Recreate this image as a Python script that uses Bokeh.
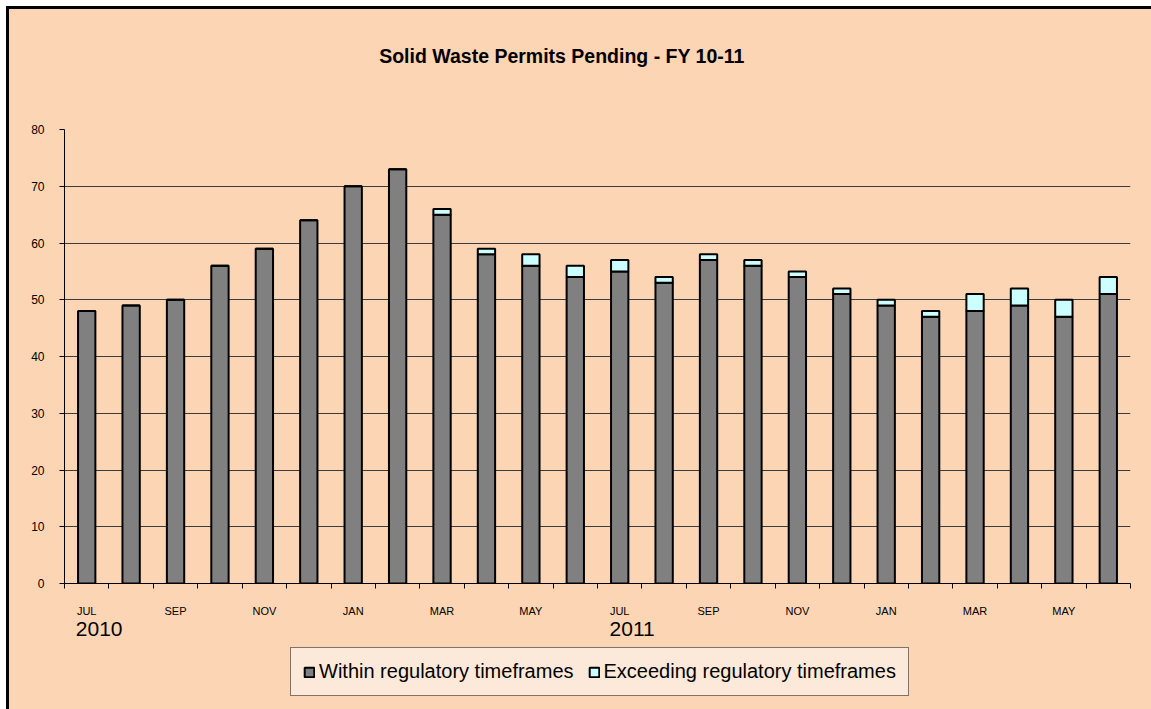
from bokeh.plotting import figure
from bokeh.layouts import column
from bokeh.models import (ColumnDataSource, Range1d, LinearAxis, FixedTicker,
                          Legend, LegendItem, Label)
from bokeh.embed import file_html
from bokeh.resources import INLINE

# ---------------- data ----------------
months = ["JUL", "AUG", "SEP", "OCT", "NOV", "DEC",
          "JAN", "FEB", "MAR", "APR", "MAY", "JUN",
          "JUL", "AUG", "SEP", "OCT", "NOV", "DEC",
          "JAN", "FEB", "MAR", "APR", "MAY", "JUN"]
years = ["2010", "2011"]
within = [48, 49, 50, 56, 59, 64, 70, 73, 65, 58, 56, 54,
          55, 53, 57, 56, 54, 51, 49, 47, 48, 49, 47, 51]
exceed = [0, 0, 0, 0, 0, 0, 0, 0, 1, 1, 2, 2,
          2, 1, 1, 1, 1, 1, 1, 1, 3, 3, 3, 3]
series_names = ["Within regulatory timeframes", "Exceeding regulatory timeframes"]
y_ticks = [0, 10, 20, 30, 40, 50, 60, 70, 80]
title_text = "Solid Waste Permits Pending - FY 10-11"

# ---------------- style ----------------
FONT = "Liberation Sans"
BG = "#FCD5B4"
COLORS = ["#808080", "#CCFFFF"]
YEAR_NUDGE = 0.28    # year labels start at the left edge of the month label
TITLE_CENTER = 11.2  # horizontal centre of the title, in category units
W = 1142

n = len(months)
xs = [i + 0.5 for i in range(n)]
source = ColumnDataSource(dict(x=xs, within=within, exceed=exceed))
x_range = Range1d(0, n)
stack_style = dict(x="x", width=0.39, source=source, fill_color=COLORS,
                   line_color="black", line_width=2)


def strip(height):
    f = figure(width=W, height=height, x_range=x_range, y_range=Range1d(0, height),
               output_backend="svg", toolbar_location=None,
               min_border_left=0, min_border_right=0,
               min_border_top=0, min_border_bottom=0,
               background_fill_color=BG, background_fill_alpha=0,
               border_fill_color=BG, outline_line_color=None,
               x_axis_type=None, y_axis_type=None)
    f.xgrid.visible = False
    f.ygrid.visible = False
    return f


# ---------------- title strip ----------------
tf = strip(81)
tf.add_layout(Label(x=TITLE_CENTER, y=35, text=title_text,
                    text_font=FONT, text_font_size="19.5px", text_font_style="bold",
                    text_color="black", text_align="center",
                    text_baseline="alphabetic"))

# ---------------- main chart ----------------
p = figure(width=W, height=555,
           x_range=x_range, y_range=Range1d(y_ticks[0], y_ticks[-1]),
           output_backend="svg", toolbar_location=None,
           min_border_left=55, min_border_right=21,
           min_border_top=39, min_border_bottom=62,
           background_fill_color=BG, background_fill_alpha=0,
           border_fill_color=BG, outline_line_color=None, x_axis_type=None)

# y axis
p.yaxis.ticker = FixedTicker(ticks=y_ticks, minor_ticks=[])
p.yaxis.axis_line_color = "black"
p.yaxis.axis_line_width = 1
p.yaxis.major_tick_line_color = "black"
p.yaxis.major_tick_out = 5
p.yaxis.major_tick_in = 0
p.yaxis.minor_tick_out = 0
p.yaxis.minor_tick_in = 0
p.yaxis.major_label_text_font = FONT
p.yaxis.major_label_text_font_size = "12px"
p.yaxis.major_label_text_color = "black"
p.yaxis.major_label_standoff = 15

p.ygrid.ticker = FixedTicker(ticks=y_ticks)
p.ygrid.grid_line_color = "#3c3c3c"
p.ygrid.grid_line_width = 1
p.xgrid.visible = False

# x axis: ticks at category boundaries, labels every other month
xaxis = LinearAxis(
    ticker=FixedTicker(ticks=[xs[i] for i in range(0, n, 2)],
                       minor_ticks=list(range(n + 1))),
    major_label_overrides={xs[i]: months[i] for i in range(0, n, 2)},
    axis_line_color="black", axis_line_width=1,
    major_tick_out=0, major_tick_in=0,
    minor_tick_out=5, minor_tick_in=0, minor_tick_line_color="black",
    major_label_text_font=FONT, major_label_text_font_size="11px",
    major_label_text_color="black", major_label_standoff=16)
p.add_layout(xaxis, "below")

# year axis under the July of each year
jul_idx = [i for i in range(n) if months[i] == "JUL"]
year_pos = [xs[i] + YEAR_NUDGE for i in jul_idx]
year_axis = LinearAxis(
    ticker=FixedTicker(ticks=year_pos, minor_ticks=[]),
    major_label_overrides={pos: years[k] for k, pos in enumerate(year_pos)},
    axis_line_color=None, major_tick_line_color=None, minor_tick_line_color=None,
    major_tick_out=0, major_tick_in=0, minor_tick_out=0, minor_tick_in=0,
    major_label_text_font=FONT, major_label_text_font_size="21px",
    major_label_text_color="black", major_label_standoff=2)
p.add_layout(year_axis, "below")

# bars
renderers = p.vbar_stack(["within", "exceed"], **stack_style)

# ---------------- legend strip ----------------
# the same stacked series, hidden here, supply the legend swatches
lf = strip(64)
swatches = lf.vbar_stack(["within", "exceed"], **stack_style)
for r in swatches:
    r.visible = False
legend = Legend(items=[LegendItem(label=series_names[i], renderers=[swatches[i]])
                       for i in range(2)],
                location=(226, 13), orientation="horizontal", click_policy="none",
                inactive_fill_alpha=0,
                background_fill_color="#FDE9D9", background_fill_alpha=1,
                border_line_color="black", border_line_width=1,
                label_text_font=FONT, label_text_font_size="20px",
                label_text_color="black",
                glyph_width=12, glyph_height=12, label_standoff=4,
                spacing=14, padding=12, margin=0)
lf.add_layout(legend)

layout = column(tf, p, lf, spacing=0,
                styles={"margin-top": "9px", "margin-left": "9px",
                        "background-color": BG,
                        "box-shadow": "0 -3px 0 0 #000000, -3px 0 0 0 #000000, "
                                      "-3px -3px 0 0 #000000"})
open("out.html", "w").write(file_html(layout, INLINE))
